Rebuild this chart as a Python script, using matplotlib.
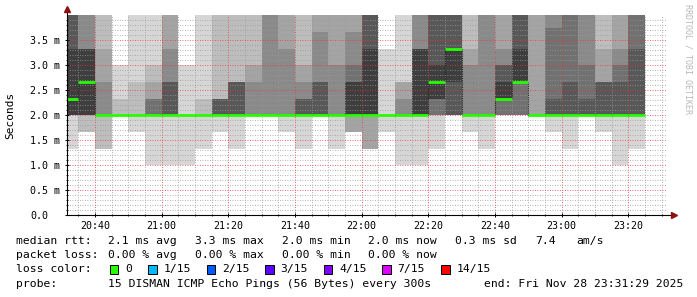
import numpy as np
import matplotlib
matplotlib.use("Agg")
import matplotlib.pyplot as plt
from matplotlib.patches import Rectangle

# ---------------- data (ms) ----------------
# 35 five-minute steps, first step ends 20:35, last ends 23:25
step_start = "20:30"
step_minutes = 5
# sorted pings 1..7 (lower half)
lower_pings = [
    [1.33, 2.00, 2.00, 2.00, 2.00, 2.00, 2.00],
    [1.67, 1.67, 2.00, 2.00, 2.00, 2.00, 2.00],
    [1.33, 1.33, 2.00, 2.00, 2.00, 2.00, 2.00],
    [2.00, 2.00, 2.00, 2.00, 2.00, 2.00, 2.00],
    [1.67, 2.00, 2.00, 2.00, 2.00, 2.00, 2.00],
    [1.00, 2.00, 2.00, 2.00, 2.00, 2.00, 2.00],
    [1.00, 2.00, 2.00, 2.00, 2.00, 2.00, 2.00],
    [1.00, 2.00, 2.00, 2.00, 2.00, 2.00, 2.00],
    [1.33, 2.00, 2.00, 2.00, 2.00, 2.00, 2.00],
    [1.67, 2.00, 2.00, 2.00, 2.00, 2.00, 2.00],
    [1.33, 2.00, 2.00, 2.00, 2.00, 2.00, 2.00],
    [2.00, 2.00, 2.00, 2.00, 2.00, 2.00, 2.00],
    [2.00, 2.00, 2.00, 2.00, 2.00, 2.00, 2.00],
    [1.67, 2.00, 2.00, 2.00, 2.00, 2.00, 2.00],
    [1.33, 2.00, 2.00, 2.00, 2.00, 2.00, 2.00],
    [2.00, 2.00, 2.00, 2.00, 2.00, 2.00, 2.00],
    [1.33, 2.00, 2.00, 2.00, 2.00, 2.00, 2.00],
    [1.67, 1.67, 1.67, 2.00, 2.00, 2.00, 2.00],
    [1.33, 1.33, 1.33, 2.00, 2.00, 2.00, 2.00],
    [1.67, 2.00, 2.00, 2.00, 2.00, 2.00, 2.00],
    [1.00, 2.00, 2.00, 2.00, 2.00, 2.00, 2.00],
    [1.00, 2.00, 2.00, 2.00, 2.00, 2.00, 2.00],
    [1.33, 2.00, 2.00, 2.00, 2.00, 2.33, 2.33],
    [2.00, 2.00, 2.00, 2.00, 2.00, 2.00, 2.67],
    [1.67, 2.00, 2.00, 2.00, 2.00, 2.00, 2.00],
    [1.33, 2.00, 2.00, 2.00, 2.00, 2.00, 2.00],
    [2.00, 2.00, 2.00, 2.00, 2.00, 2.33, 2.33],
    [2.00, 2.00, 2.00, 2.00, 2.00, 2.67, 2.67],
    [2.00, 2.00, 2.00, 2.00, 2.00, 2.00, 2.00],
    [1.67, 2.00, 2.00, 2.00, 2.00, 2.00, 2.00],
    [1.33, 2.00, 2.00, 2.00, 2.00, 2.00, 2.00],
    [2.00, 2.00, 2.00, 2.00, 2.00, 2.00, 2.00],
    [1.67, 2.00, 2.00, 2.00, 2.00, 2.00, 2.00],
    [1.00, 2.00, 2.00, 2.00, 2.00, 2.00, 2.00],
    [1.33, 2.00, 2.00, 2.00, 2.00, 2.00, 2.00],
]
# median ping (ping 8)
median_rtt = [2.33, 2.67, 2.00, 2.00, 2.00, 2.00, 2.00, 2.00, 2.00, 2.00,
              2.00, 2.00, 2.00, 2.00, 2.00, 2.00, 2.00, 2.00, 2.00, 2.00,
              2.00, 2.00, 2.67, 3.33, 2.00, 2.00, 2.33, 2.67, 2.00, 2.00,
              2.00, 2.00, 2.00, 2.00, 2.00]
# sorted pings 9..15 (upper half)
upper_pings = [
    [3.33, 4.33, 4.67, 5.00, 5.67, 6.33, 7.00],
    [3.33, 3.33, 3.33, 4.33, 4.67, 5.33, 6.00],
    [2.00, 2.00, 2.00, 2.67, 3.33, 4.33, 5.00],
    [2.00, 2.00, 2.00, 2.00, 2.00, 2.33, 3.00],
    [2.00, 2.00, 2.00, 2.00, 2.00, 2.67, 4.33],
    [2.00, 2.00, 2.33, 2.33, 2.67, 3.00, 4.33],
    [2.00, 2.67, 2.67, 3.33, 4.33, 4.67, 5.33],
    [2.00, 2.00, 2.00, 2.00, 2.00, 2.00, 3.00],
    [2.00, 2.00, 2.00, 2.00, 2.00, 2.33, 4.33],
    [2.00, 2.33, 2.33, 2.33, 2.33, 4.33, 5.00],
    [2.00, 2.67, 2.67, 2.67, 2.67, 4.33, 5.00],
    [2.00, 2.00, 2.00, 2.67, 3.00, 4.33, 5.00],
    [2.00, 2.00, 2.00, 4.33, 4.67, 5.00, 5.67],
    [2.00, 2.00, 2.00, 3.33, 4.33, 4.67, 5.33],
    [2.00, 2.33, 2.33, 2.67, 3.00, 4.33, 5.00],
    [2.00, 2.67, 2.67, 3.67, 4.33, 4.67, 5.33],
    [2.00, 2.00, 2.00, 3.00, 4.33, 4.67, 5.33],
    [2.67, 2.67, 3.00, 3.67, 4.33, 4.67, 5.33],
    [3.33, 4.33, 4.67, 5.00, 5.33, 6.00, 6.67],
    [2.00, 2.00, 2.00, 2.00, 2.00, 2.00, 3.33],
    [2.00, 2.00, 2.00, 2.33, 2.67, 2.67, 4.33],
    [3.33, 3.33, 3.33, 4.33, 4.67, 5.00, 5.67],
    [3.00, 4.33, 4.67, 5.00, 5.33, 6.00, 6.67],
    [3.33, 4.33, 4.67, 5.00, 5.33, 6.00, 6.67],
    [2.00, 2.00, 2.00, 3.00, 3.33, 4.33, 5.00],
    [2.00, 2.00, 2.00, 4.33, 4.67, 5.00, 5.67],
    [2.67, 3.00, 3.00, 3.33, 4.33, 4.67, 5.33],
    [3.33, 4.33, 4.67, 5.00, 5.33, 6.00, 6.67],
    [2.00, 2.00, 2.00, 2.00, 4.33, 4.67, 5.33],
    [2.00, 2.33, 3.75, 4.33, 4.67, 5.00, 5.67],
    [2.00, 2.67, 4.33, 4.67, 5.00, 5.33, 6.00],
    [2.00, 2.33, 3.00, 4.33, 4.67, 5.00, 5.67],
    [2.00, 2.67, 2.67, 2.67, 3.33, 4.33, 5.00],
    [2.00, 2.67, 3.00, 3.33, 4.33, 4.67, 5.33],
    [2.00, 3.33, 4.33, 4.67, 5.00, 5.33, 6.00],
]
x_tick_labels = ["20:40", "21:00", "21:20", "21:40", "22:00",
                 "22:20", "22:40", "23:00", "23:20"]
y_tick_labels = ["0.0", "0.5 m", "1.0 m", "1.5 m", "2.0 m", "2.5 m", "3.0 m", "3.5 m"]
view_start, view_end = "20:31:29", "23:31:29"
loss_labels = ["0", "1/15", "2/15", "3/15", "4/15", "7/15", "14/15"]
loss_colors = ["#26ff00", "#00b8ff", "#0059ff", "#5e00ff", "#7e00ff", "#dd00ff", "#ff0000"]

# ---------------- helpers ----------------
def minutes(s):
    p = [int(v) for v in s.split(":")]
    while len(p) < 3:
        p.append(0)
    return (p[0] - 20) * 60 + p[1] + p[2] / 60.0

W, H = 697, 297
MONO = "DejaVu Sans Mono"
fig = plt.figure(figsize=(W / 100, H / 100), dpi=100)
fig.patch.set_facecolor("white")
L, R, B, T = 66.5, 666.5, 215.0, 15.0
ax = fig.add_axes([L / W, 1 - B / H, (R - L) / W, (B - T) / H])

t0, t1 = minutes(view_start), minutes(view_end)
n = len(median_rtt)
edges = minutes(step_start) + step_minutes * np.arange(n + 1)
pings = np.column_stack([np.array(lower_pings), np.array(median_rtt), np.array(upper_pings)])

# smoke: 7 nested bands, lighter outside
npings = pings.shape[1]
half = npings / 2
for k in range(1, int(half) + 1):
    g = int(190 / half * (half - k)) + 50
    col = "#%02x%02x%02x" % (g, g, g)
    ax.stairs(pings[:, npings - k], edges, baseline=pings[:, k - 1], fill=True,
              facecolor=col, edgecolor="none", linewidth=0, antialiased=False, zorder=1)

med = np.array(median_rtt)
ax.stairs(med, edges, baseline=None, color="#202020", linewidth=0.8,
          linestyle=(0, (1, 1)), zorder=3)
ax.hlines(med, edges[:-1], edges[1:], color=loss_colors[0], linewidth=2.0,
          capstyle="butt", zorder=4)

ax.set_xlim(t0, t1)
ax.set_ylim(0, 4.0)

major_x = [minutes(s) for s in x_tick_labels]
minor_x = [m for m in np.arange(35, t1, 5) if m not in major_x]
ax.set_xticks(major_x)
ax.set_xticklabels(x_tick_labels)
ax.set_xticks(minor_x, minor=True)
major_y = np.arange(len(y_tick_labels)) * 0.5
ax.set_yticks(major_y)
ax.set_yticklabels(y_tick_labels)
minor_y = [round(v, 1) for v in np.arange(0.1, 4.0, 0.1) if abs(v / 0.5 - round(v / 0.5)) > 1e-6]
ax.set_yticks(minor_y, minor=True)

ax.set_axisbelow(False)
ax.grid(which="minor", color=(0.6, 0.6, 0.6, 0.25), linewidth=0.6, linestyle=(0, (1, 2)))
ax.grid(which="major", color=(0.95, 0.2, 0.2, 0.16), linewidth=0.6, linestyle=(0, (1, 2)))

for s in ax.spines.values():
    s.set_visible(False)
ax.tick_params(which="major", direction="inout", length=3, width=0.7, color="black",
               labelsize=7.2, labelfontfamily=MONO)
ax.tick_params(which="minor", direction="inout", length=2, width=0.6, color="black")
ax.tick_params(axis="x", which="major", pad=2.6)
ax.tick_params(axis="y", which="major", pad=24.8)
for lab in ax.get_yticklabels():
    lab.set_horizontalalignment("left")

# axis lines with arrows
ax.plot([0, 0], [0, 1.0 + 4 / 200], transform=ax.transAxes, color="black",
        linewidth=0.8, clip_on=False, zorder=5)
ax.plot([0, 1.0 + 4 / 600], [0, 0], transform=ax.transAxes, color="black",
        linewidth=0.8, clip_on=False, zorder=5)
ax.plot([0], [1.0 + 6 / 200], transform=ax.transAxes, marker="^", markersize=4.5,
        color="#8b1010", clip_on=False, zorder=6)
ax.plot([1.0 + 7 / 600], [0], transform=ax.transAxes, marker=">", markersize=4.5,
        color="#8b1010", clip_on=False, zorder=6)

ax.set_ylabel("Seconds", fontsize=8, family=MONO)
ax.yaxis.set_label_coords((15 - L) / (R - L), 0.5)

def P(x, y):
    return x / W, 1 - y / H

fig.text(*P(688, 4), "RRDTOOL / TOBI OETIKER", rotation=270, ha="center", va="top",
         fontsize=6, color="#b8b8b8", family=MONO)

FS = 8.2
def txt(x, y, s):
    fig.text(*P(x, y), s, ha="left", va="center", fontsize=FS, family=MONO, color="black")

y1, y2, y3, y4 = 241, 255, 269, 284
txt(16, y1, "median rtt:")
for x, s in [(108, "2.1 ms avg"), (195, "3.3 ms max"), (282, "2.0 ms min"),
             (368, "2.0 ms now"), (455, "0.3 ms sd"), (535, "7.4"), (576, "am/s")]:
    txt(x, y1, s)
txt(16, y2, "packet loss:")
for x, s in [(108, "0.00 % avg"), (195, "0.00 % max"), (282, "0.00 % min"), (368, "0.00 % now")]:
    txt(x, y2, s)
txt(16, y3, "loss color:")
box_x = [109.5, 148, 206.5, 265, 323.5, 382, 441]
for bx, lab, c in zip(box_x, loss_labels, loss_colors):
    fig.patches.append(Rectangle(P(bx, y3 + 4.5), 8.5 / W, 9 / H, transform=fig.transFigure,
                                 facecolor=c, edgecolor="black", linewidth=0.7))
    txt(bx + 15.5, y3, lab)
txt(16, y4, "probe:")
txt(108, y4, "15 DISMAN ICMP Echo Pings (56 Bytes) every 300s")
txt(484, y4, "end: Fri Nov 28 23:31:29 2025")

fig.savefig("out.png", dpi=100, facecolor="white")
